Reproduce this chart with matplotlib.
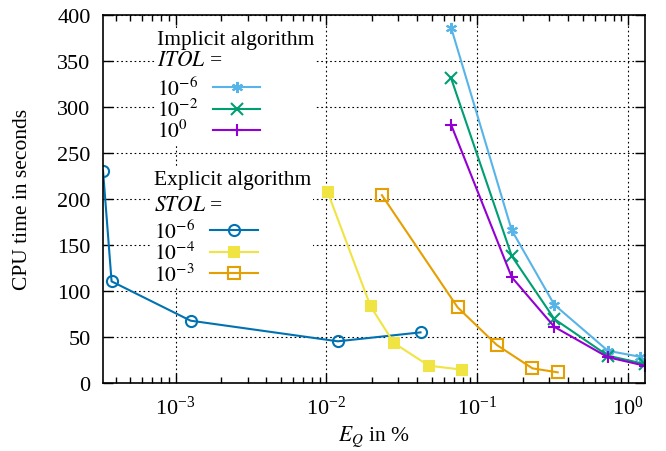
import numpy as np
import matplotlib
matplotlib.use("Agg")
import matplotlib.pyplot as plt
from matplotlib.ticker import LogLocator, LogFormatterMathtext, MultipleLocator

plt.rcParams['font.family'] = ['Liberation Serif', 'DejaVu Serif']
plt.rcParams['mathtext.fontset'] = 'stix'
plt.rcParams['font.size'] = 15.5

# Implicit algorithm, ITOL values
itol_labels = [r'$10^{-6}$', r'$10^{-2}$', r'$10^{0}$']
itol_x = [0.067, 0.169, 0.324, 0.734, 1.19]
itol_x2 = [0.067, 0.169, 0.324, 0.734, 1.29]
itol_1e6 = [386, 166, 85, 35, 28.6]
itol_1e2 = [331, 138, 69.5, 29.7, 20.6]
itol_1e0 = [280.5, 115, 61, 28, 18.8]

# Explicit algorithm, STOL values
stol_labels = [r'$10^{-6}$', r'$10^{-4}$', r'$10^{-3}$']
stol_1e6_x = [3.3e-4, 3.76e-4, 1.256e-3, 0.0119, 0.042]
stol_1e6_y = [230.6, 110.4, 67.7, 45.3, 55]
stol_1e4_x = [0.0102, 0.0196, 0.028, 0.0477, 0.0794]
stol_1e4_y = [207, 83.3, 43.4, 18.8, 14.5]
stol_1e3_x = [0.0233, 0.074, 0.1346, 0.232, 0.341]
stol_1e3_y = [204, 82.2, 41.3, 15.9, 11.6]

fig = plt.figure(figsize=(6.66, 4.52), dpi=100)
ax = fig.add_axes([0.1547, 0.1504, 0.969 - 0.1547, 0.9653 - 0.1504])

lw = 1.5
ms = 8
h1, = ax.plot(itol_x, itol_1e6, color='#56b4e9', lw=lw, marker=(6, 2, 0), ms=ms, mew=1.5)
h2, = ax.plot(itol_x2, itol_1e2, color='#009e73', lw=lw, marker='x', ms=ms, mew=1.5)
h3, = ax.plot(itol_x2, itol_1e0, color='#9400d3', lw=lw, marker='+', ms=ms + 1, mew=1.5)

g1, = ax.plot(stol_1e6_x, stol_1e6_y, color='#0072b2', lw=lw, marker='o', ms=ms, mfc='none', mew=1.5)
g2, = ax.plot(stol_1e4_x, stol_1e4_y, color='#f0e442', lw=lw, marker='s', ms=ms, mew=0)
g3, = ax.plot(stol_1e3_x, stol_1e3_y, color='#e69f00', lw=lw, marker='s', ms=ms, mfc='none', mew=1.5)

ax.set_xscale('log')
ax.set_xlim(3.3e-4, 1.3)
ax.set_ylim(0, 400)
ax.yaxis.set_major_locator(MultipleLocator(50))
ax.xaxis.set_major_locator(LogLocator(base=10, numticks=10))
ax.xaxis.set_major_formatter(LogFormatterMathtext())
ax.xaxis.set_minor_locator(LogLocator(base=10, subs=np.arange(2, 10), numticks=20))

ax.grid(True, which='major', color='black', linestyle=(0, (1.5, 2.5)), lw=0.8)
ax.tick_params(which='both', direction='in', top=True, right=True, labelsize=16)
ax.tick_params(which='major', length=7, width=1)
ax.tick_params(which='minor', length=4, width=1)
ax.tick_params(axis='x', pad=9)
ax.tick_params(axis='y', pad=9)
for s in ax.spines.values():
    s.set_linewidth(1.2)

ax.set_ylabel('CPU time in seconds', fontsize=15.5, labelpad=18)
ax.set_xlabel(r'$E_Q$ in %', fontsize=15.5, labelpad=4)

common = dict(loc='upper left', markerfirst=False, frameon=True, framealpha=1,
              edgecolor='none', facecolor='white', fancybox=False,
              handlelength=2.2, labelspacing=-0.05, borderpad=0.1,
              alignment='left', title_fontsize=15.5, fontsize=15.5,
              handletextpad=0.7, borderaxespad=0)
leg1 = ax.legend([h1, h2, h3], itol_labels, title='Implicit algorithm\n$ITOL$ =',
                 bbox_to_anchor=(0.095, 0.965), **common)
ax.add_artist(leg1)
leg2 = ax.legend([g1, g2, g3], stol_labels, title='Explicit algorithm\n$STOL$ =',
                 bbox_to_anchor=(0.09, 0.585), **common)

# gnuplot-style key: labels left-aligned, samples lined up on the right
renderer = fig.canvas.get_renderer()
for leg, spacing, gap in ((leg1, 1.15, 5), (leg2, 1.55, 3)):
    leg.get_title().set_linespacing(spacing)
    leg._legend_box.sep = gap
    col = leg._legend_handle_box.get_children()[0]
    rows = col.get_children()
    w = max(r.get_bbox(renderer).width for r in rows)
    for r in rows:
        r.mode = 'expand'
        r.width = w

fig.savefig('out.png', dpi=100)
